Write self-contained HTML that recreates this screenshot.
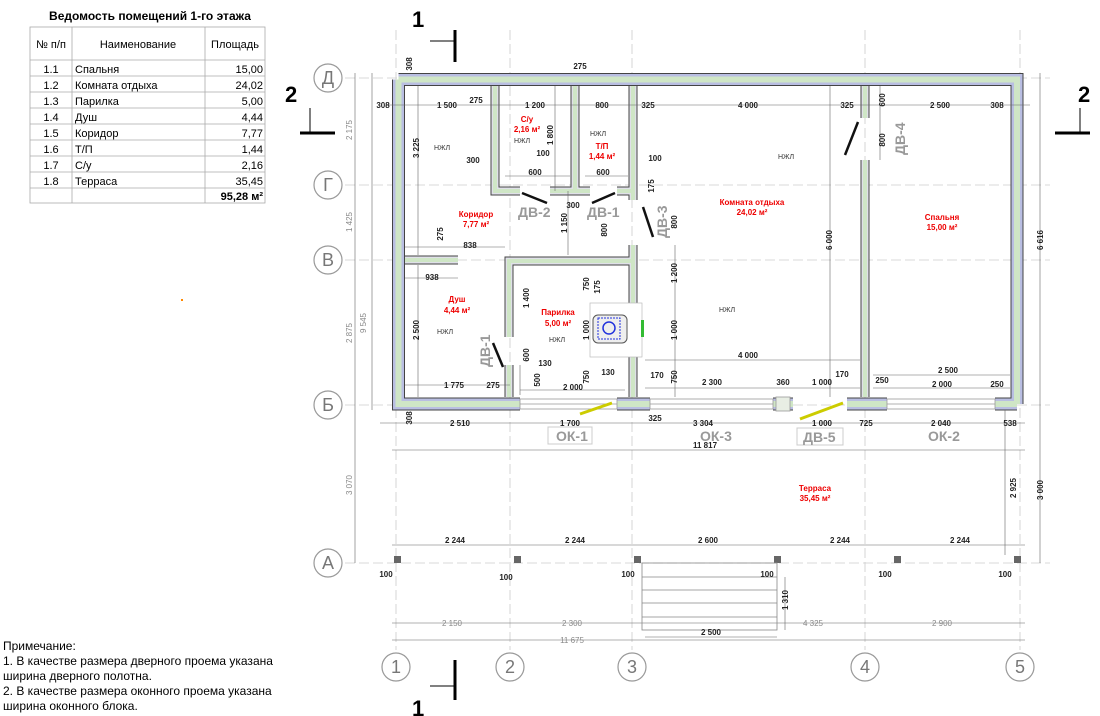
<!DOCTYPE html>
<html><head><meta charset="utf-8"><style>
body{margin:0;background:#fff;width:1100px;height:716px;overflow:hidden}
svg{display:block;font-family:"Liberation Sans","DejaVu Sans",sans-serif}
.d{font-size:8px;font-weight:bold;fill:#222}
.g{font-size:8px;fill:#888}
.r{font-size:8px;font-weight:bold;fill:#e00;text-anchor:middle}
.n{font-size:7px;fill:#333;text-anchor:middle}
.dv{font-size:14px;font-weight:bold;fill:#999}
.ax{font-size:18px;fill:#777;text-anchor:middle}
.t{font-size:12px;fill:#000}
</style></head><body>
<svg width="1100" height="716" viewBox="0 0 1100 716">
<defs>
<g id="walls" fill="none">
<path d="M398.5,79.5 H1017 V404 M398.5,79.5 V404 H520"/>
<path d="M617,404 H650 M773,404 H793 M847,404 H887 M995,404 H1017"/>
</g>
<g id="iw" fill="none">
<path d="M495,86 V191 H520 M550,191 H590 M575,86 V191 M617,191 H633 M633,86 V200 M633,245 V397"/>
<path d="M509,397 V365 M509,337 V261 H633 M405,260 H458"/>
<path d="M865,86 V118 M865,160 V397"/>
</g>
</defs>
<g stroke="#ccc" stroke-width="0.8" stroke-dasharray="10,4">
<line x1="345" y1="78" x2="1050" y2="78"/><line x1="345" y1="185" x2="1050" y2="185"/>
<line x1="345" y1="260" x2="1050" y2="260"/><line x1="345" y1="405" x2="1050" y2="405"/>
<line x1="345" y1="563" x2="1050" y2="563"/>
<line x1="396" y1="30" x2="396" y2="650"/><line x1="510" y1="30" x2="510" y2="650"/>
<line x1="632" y1="30" x2="632" y2="650"/><line x1="865" y1="30" x2="865" y2="650"/>
<line x1="1020" y1="30" x2="1020" y2="650"/>
</g>
<use href="#walls" stroke="#444" stroke-width="13"/>
<use href="#walls" stroke="#b9bee2" stroke-width="11"/>
<use href="#walls" stroke="#cfe6c6" stroke-width="6"/>
<use href="#iw" stroke="#444" stroke-width="9"/>
<use href="#iw" stroke="#dfe0e8" stroke-width="7"/>
<use href="#iw" stroke="#cfe6c6" stroke-width="4"/>
<g fill="#fff" stroke="#999" stroke-width="0.8">
<rect x="520" y="399" width="97" height="10"/><line x1="520" y1="404" x2="617" y2="404"/>
<rect x="650" y="399" width="123" height="10"/><line x1="650" y1="404" x2="773" y2="404"/>
<rect x="887" y="399" width="108" height="10"/><line x1="887" y1="404" x2="995" y2="404"/>
<rect x="776" y="397" width="14" height="14" fill="#e8eee4"/>
</g>
<g stroke="#111" stroke-width="2.5">
<line x1="522" y1="193" x2="547" y2="203"/><line x1="592" y1="203" x2="615" y2="193"/>
<line x1="643" y1="207" x2="653" y2="237"/><line x1="858" y1="122" x2="845" y2="155"/>
<line x1="493" y1="343" x2="503" y2="367"/>
</g>
<g stroke="#cc0" stroke-width="3"><line x1="580" y1="414" x2="612" y2="403"/><line x1="800" y1="419" x2="843" y2="403"/></g>
<rect x="590" y="303" width="52" height="54" fill="#fff" stroke="#bbb" stroke-width="0.7"/>
<rect x="593" y="315" width="34" height="28" rx="5" fill="#eee" stroke="#555"/>
<rect x="598" y="318" width="22" height="21" fill="none" stroke="#23d" stroke-dasharray="2,1"/>
<circle cx="609" cy="328" r="6" fill="none" stroke="#23d" stroke-width="1.5"/>
<rect x="641" y="320" width="3" height="17" fill="#3b3"/>
<g stroke="#666" stroke-width="0.6" fill="none">
<line x1="385" y1="105" x2="1030" y2="105"/>
<line x1="380" y1="423" x2="1025" y2="423"/>
<line x1="392" y1="450" x2="1025" y2="450"/>
<line x1="392" y1="545" x2="1025" y2="545"/>
<line x1="392" y1="623" x2="1025" y2="623"/>
<line x1="392" y1="640" x2="1025" y2="640"/>
<line x1="645" y1="637" x2="777" y2="637"/>
<line x1="355" y1="73" x2="355" y2="563"/>
<line x1="372" y1="73" x2="372" y2="410"/>
<line x1="1040" y1="73" x2="1040" y2="410"/>
<line x1="1040" y1="410" x2="1040" y2="563"/>
<line x1="1005" y1="410" x2="1005" y2="555"/>
<line x1="785" y1="577" x2="785" y2="630"/>
<line x1="405" y1="385" x2="510" y2="385"/><line x1="520" y1="390" x2="625" y2="390"/>
<line x1="645" y1="360" x2="860" y2="360"/><line x1="645" y1="388" x2="860" y2="388"/>
<line x1="873" y1="375" x2="1010" y2="375"/><line x1="873" y1="388" x2="1010" y2="388"/>
<line x1="830" y1="86" x2="830" y2="397"/>
<line x1="418" y1="86" x2="418" y2="255"/><line x1="418" y1="265" x2="418" y2="397"/>
<line x1="675" y1="245" x2="675" y2="397"/>
<line x1="880" y1="86" x2="880" y2="160"/>
<line x1="555" y1="86" x2="555" y2="191"/>
<line x1="568" y1="191" x2="568" y2="255"/>
<line x1="405" y1="247" x2="505" y2="247"/><line x1="405" y1="278" x2="458" y2="278"/>
<line x1="505" y1="176" x2="570" y2="176"/><line x1="585" y1="176" x2="628" y2="176"/>
<line x1="520" y1="395" x2="520" y2="365"/>
</g>
<g fill="#666"><rect x="394" y="556" width="7" height="7"/><rect x="514" y="556" width="7" height="7"/><rect x="634" y="556" width="7" height="7"/><rect x="774" y="556" width="7" height="7"/><rect x="894" y="556" width="7" height="7"/><rect x="1014" y="556" width="7" height="7"/></g>
<g stroke="#888" stroke-width="0.8" fill="none"><rect x="642" y="563" width="135" height="67"/><line x1="642" y1="577" x2="777" y2="577"/><line x1="642" y1="590" x2="777" y2="590"/><line x1="642" y1="603" x2="777" y2="603"/><line x1="642" y1="617" x2="777" y2="617"/></g>
<g class="d" text-anchor="middle">
<text x="383" y="108">308</text><text x="447" y="108">1 500</text><text x="476" y="103">275</text><text x="535" y="108">1 200</text><text x="602" y="108">800</text><text x="648" y="108">325</text><text x="748" y="108">4 000</text><text x="847" y="108">325</text><text x="940" y="108">2 500</text><text x="997" y="108">308</text>
<text x="580" y="69">275</text>
<text x="473" y="163">300</text><text x="543" y="156">100</text><text x="535" y="175">600</text><text x="603" y="175">600</text><text x="655" y="161">100</text><text x="573" y="208">300</text><text x="470" y="248">838</text><text x="432" y="280">938</text>
<text x="545" y="366">130</text><text x="608" y="375">130</text><text x="454" y="388">1 775</text><text x="493" y="388">275</text><text x="573" y="390">2 000</text>
<text x="748" y="358">4 000</text><text x="657" y="378">170</text><text x="712" y="385">2 300</text><text x="783" y="385">360</text><text x="822" y="385">1 000</text><text x="842" y="377">170</text><text x="882" y="383">250</text><text x="948" y="373">2 500</text><text x="942" y="387">2 000</text><text x="997" y="387">250</text>
<text x="460" y="426">2 510</text><text x="570" y="426">1 700</text><text x="655" y="421">325</text><text x="703" y="426">3 304</text><text x="822" y="426">1 000</text><text x="866" y="426">725</text><text x="941" y="426">2 040</text><text x="1010" y="426">538</text>
<text x="705" y="448">11 817</text>
<text x="455" y="543">2 244</text><text x="575" y="543">2 244</text><text x="708" y="543">2 600</text><text x="840" y="543">2 244</text><text x="960" y="543">2 244</text>
<text x="386" y="577">100</text><text x="506" y="580">100</text><text x="628" y="577">100</text><text x="767" y="577">100</text><text x="885" y="577">100</text><text x="1005" y="577">100</text>
<text x="711" y="635">2 500</text>
</g>
<g class="g" text-anchor="middle"><text x="452" y="626">2 150</text><text x="572" y="626">2 300</text><text x="813" y="626">4 325</text><text x="942" y="626">2 900</text><text x="572" y="643">11 675</text></g>
<g class="d" text-anchor="middle">
<text transform="translate(419,148) rotate(-90)">3 225</text><text transform="translate(553,135) rotate(-90)">1 800</text><text transform="translate(654,186) rotate(-90)">175</text>
<text transform="translate(443,234) rotate(-90)">275</text><text transform="translate(567,223) rotate(-90)">1 150</text><text transform="translate(607,230) rotate(-90)">800</text>
<text transform="translate(419,330) rotate(-90)">2 500</text><text transform="translate(529,298) rotate(-90)">1 400</text><text transform="translate(589,284) rotate(-90)">750</text><text transform="translate(600,287) rotate(-90)">175</text><text transform="translate(589,330) rotate(-90)">1 000</text>
<text transform="translate(529,355) rotate(-90)">600</text><text transform="translate(540,380) rotate(-90)">500</text><text transform="translate(589,377) rotate(-90)">750</text>
<text transform="translate(677,273) rotate(-90)">1 200</text><text transform="translate(677,330) rotate(-90)">1 000</text><text transform="translate(677,377) rotate(-90)">750</text>
<text transform="translate(677,222) rotate(-90)">800</text><text transform="translate(832,240) rotate(-90)">6 000</text><text transform="translate(885,100) rotate(-90)">600</text><text transform="translate(885,140) rotate(-90)">800</text>
<text transform="translate(412,418) rotate(-90)">308</text><text transform="translate(412,64) rotate(-90)">308</text>
<text transform="translate(1043,240) rotate(-90)">6 616</text><text transform="translate(1043,490) rotate(-90)">3 000</text><text transform="translate(1016,488) rotate(-90)">2 925</text>
<text transform="translate(788,600) rotate(-90)">1 310</text>
</g>
<g class="g" text-anchor="middle"><text transform="translate(352,130) rotate(-90)">2 175</text><text transform="translate(352,222) rotate(-90)">1 425</text><text transform="translate(352,333) rotate(-90)">2 875</text><text transform="translate(352,485) rotate(-90)">3 070</text><text transform="translate(366,323) rotate(-90)">9 545</text></g>
<text class="r" x="527" y="122">С/у</text><text class="r" x="527" y="132">2,16 м²</text>
<text class="r" x="602" y="149">Т/П</text><text class="r" x="602" y="159">1,44 м²</text>
<text class="r" x="476" y="217">Коридор</text><text class="r" x="476" y="227">7,77 м²</text>
<text class="r" x="457" y="302">Душ</text><text class="r" x="457" y="313">4,44 м²</text>
<text class="r" x="558" y="315">Парилка</text><text class="r" x="558" y="326">5,00 м²</text>
<text class="r" x="752" y="205">Комната отдыха</text><text class="r" x="752" y="215">24,02 м²</text>
<text class="r" x="942" y="220">Спальня</text><text class="r" x="942" y="230">15,00 м²</text>
<text class="r" x="815" y="491">Терраса</text><text class="r" x="815" y="501">35,45 м²</text>
<g class="n"><text x="442" y="150">НЖЛ</text><text x="522" y="143">НЖЛ</text><text x="598" y="136">НЖЛ</text><text x="445" y="334">НЖЛ</text><text x="557" y="342">НЖЛ</text><text x="786" y="159">НЖЛ</text><text x="727" y="312">НЖЛ</text></g>
<text class="dv" x="518" y="217">ДВ-2</text><text class="dv" x="587" y="217">ДВ-1</text>
<text class="dv" transform="translate(667,238) rotate(-90)">ДВ-3</text><text class="dv" transform="translate(905,155) rotate(-90)">ДВ-4</text><text class="dv" transform="translate(490,367) rotate(-90)">ДВ-1</text>
<rect x="548" y="427" width="44" height="17" fill="#fff" stroke="#ccc"/><text class="dv" x="556" y="441">ОК-1</text>
<text class="dv" x="700" y="441">ОК-3</text>
<rect x="797" y="428" width="46" height="17" fill="#fff" stroke="#ccc"/><text class="dv" x="803" y="442">ДВ-5</text>
<text class="dv" x="928" y="441">ОК-2</text>
<g fill="#fff" stroke="#999" stroke-width="1.2">
<circle cx="328" cy="78" r="14"/><circle cx="328" cy="185" r="14"/><circle cx="328" cy="260" r="14"/><circle cx="328" cy="405" r="14"/><circle cx="328" cy="563" r="14"/>
<circle cx="396" cy="667" r="14"/><circle cx="510" cy="667" r="14"/><circle cx="632" cy="667" r="14"/><circle cx="865" cy="667" r="14"/><circle cx="1020" cy="667" r="14"/>
</g>
<g class="ax"><text x="328" y="84">Д</text><text x="328" y="191">Г</text><text x="328" y="266">В</text><text x="328" y="411">Б</text><text x="328" y="569">А</text>
<text x="396" y="673">1</text><text x="510" y="673">2</text><text x="632" y="673">3</text><text x="865" y="673">4</text><text x="1020" y="673">5</text></g>
<g font-size="22" font-weight="bold" fill="#000"><text x="412" y="27">1</text><text x="412" y="716">1</text><text x="285" y="102">2</text><text x="1078" y="102">2</text></g>
<g stroke="#000"><line x1="455" y1="30" x2="455" y2="62" stroke-width="3"/><line x1="430" y1="41" x2="455" y2="41" stroke-width="1"/>
<line x1="455" y1="660" x2="455" y2="700" stroke-width="3"/><line x1="430" y1="686" x2="455" y2="686" stroke-width="1"/>
<line x1="300" y1="133" x2="335" y2="133" stroke-width="3"/><line x1="310" y1="108" x2="310" y2="133" stroke-width="1"/>
<line x1="1055" y1="133" x2="1090" y2="133" stroke-width="3"/><line x1="1080" y1="108" x2="1080" y2="133" stroke-width="1"/></g>
<text x="150" y="20" font-size="12" font-weight="bold" text-anchor="middle">Ведомость помещений 1-го этажа</text>
<g stroke="#aaa" stroke-width="0.8" fill="none">
<rect x="30" y="27" width="235" height="176"/>
<line x1="72" y1="27" x2="72" y2="203"/><line x1="205" y1="27" x2="205" y2="203"/>
<line x1="30" y1="60" x2="265" y2="60"/><line x1="30" y1="76" x2="265" y2="76"/><line x1="30" y1="92" x2="265" y2="92"/><line x1="30" y1="108" x2="265" y2="108"/><line x1="30" y1="124" x2="265" y2="124"/><line x1="30" y1="140" x2="265" y2="140"/><line x1="30" y1="156" x2="265" y2="156"/><line x1="30" y1="172" x2="265" y2="172"/><line x1="30" y1="188" x2="265" y2="188"/>
</g>
<g font-size="11" fill="#000">
<text x="51" y="48" text-anchor="middle">№ п/п</text><text x="138" y="48" text-anchor="middle">Наименование</text><text x="235" y="48" text-anchor="middle">Площадь</text>
<g text-anchor="middle"><text x="51" y="73">1.1</text><text x="51" y="89">1.2</text><text x="51" y="105">1.3</text><text x="51" y="121">1.4</text><text x="51" y="137">1.5</text><text x="51" y="153">1.6</text><text x="51" y="169">1.7</text><text x="51" y="185">1.8</text></g>
<text x="75" y="73">Спальня</text><text x="75" y="89">Комната отдыха</text><text x="75" y="105">Парилка</text><text x="75" y="121">Душ</text><text x="75" y="137">Коридор</text><text x="75" y="153">Т/П</text><text x="75" y="169">С/у</text><text x="75" y="185">Терраса</text>
<g text-anchor="end"><text x="263" y="73">15,00</text><text x="263" y="89">24,02</text><text x="263" y="105">5,00</text><text x="263" y="121">4,44</text><text x="263" y="137">7,77</text><text x="263" y="153">1,44</text><text x="263" y="169">2,16</text><text x="263" y="185">35,45</text><text x="263" y="200" font-weight="bold">95,28 м²</text></g>
</g>
<rect x="181" y="299" width="2" height="2" fill="#f80"/>
<g class="t"><text x="3" y="650">Примечание:</text><text x="3" y="665">1. В качестве размера дверного проема указана</text><text x="3" y="680">ширина дверного полотна.</text><text x="3" y="695">2. В качестве размера оконного проема указана</text><text x="3" y="710">ширина оконного блока.</text></g>
</svg>
</body></html>
